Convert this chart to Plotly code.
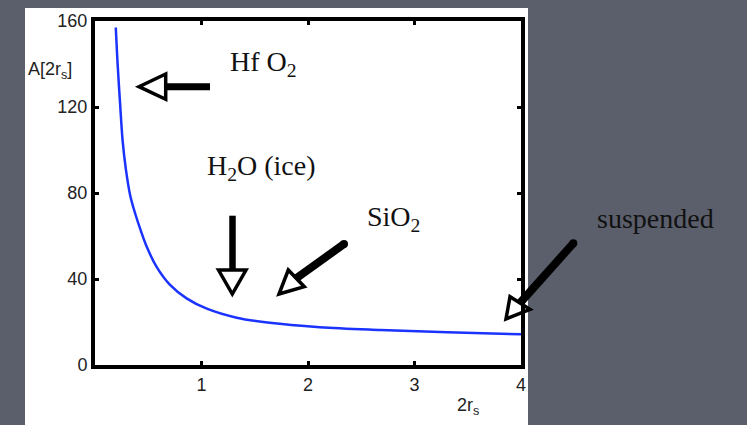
import plotly.graph_objects as go

# Curve samples: A[2r_s] against 2r_s
size_2rs = [0.195, 0.21, 0.235, 0.26, 0.29, 0.33, 0.38, 0.43, 0.49, 0.58, 0.70, 0.86,
            1.05, 1.33, 1.64, 2.11, 2.68, 3.31, 4.0]
a_value = [157, 142, 122, 104, 91, 79, 70, 62.5, 54.5, 45.5, 37.5, 31,
           26.2, 22, 19.6, 17.6, 16.3, 15.2, 14.3]

x_ticks = [1, 2, 3, 4]
y_ticks = [0, 40, 80, 120, 160]

W, H = 747, 425
ML, MR, MT, MB = 95, 226, 21, 60
PW, PH = W - ML - MR, H - MT - MB


def px(x):
    return (x - ML) / PW


def py(y):
    return (H - MB - y) / PH


fig = go.Figure()
fig.add_trace(go.Scatter(
    x=size_2rs, y=a_value, mode="lines",
    line=dict(color="#1a33ff", width=2.5, shape="spline", smoothing=1.0),
    hoverinfo="skip", showlegend=False,
))

axis_common = dict(
    showline=True, linecolor="black", linewidth=4, mirror="ticks",
    ticks="inside", ticklen=4, tickwidth=3, tickcolor="black",
    showgrid=False, zeroline=False,
    tickfont=dict(family="Liberation Sans, Arial, sans-serif", size=18, color="#222"),
)
fig.update_xaxes(range=[0, 4], tickvals=x_ticks, ticktext=[str(v) for v in x_ticks], **axis_common)
fig.update_yaxes(range=[0, 160], tickvals=y_ticks, ticktext=[str(v) for v in y_ticks], **axis_common)

shapes = []
# white slide panel behind the chart
shapes.append(dict(type="rect", xref="paper", yref="paper", layer="below",
                   x0=px(25), x1=px(528), y0=py(440), y1=py(8),
                   fillcolor="white", line=dict(width=0)))

ARROW = dict(color="black", width=3.5)


def shaft(x0, y0, x1, y1, w):
    shapes.append(dict(type="line", xref="paper", yref="paper", layer="above",
                       x0=px(x0), y0=py(y0), x1=px(x1), y1=py(y1),
                       line=dict(color="black", width=w)))


def round_cap(x, y, r):
    shapes.append(dict(type="circle", xref="paper", yref="paper", layer="above",
                       x0=px(x - r), x1=px(x + r), y0=py(y + r), y1=py(y - r),
                       fillcolor="black", line=dict(width=0)))


def head(p1, tip, p2):
    pts = [p1, tip, p2]
    path = "M " + " L ".join(f"{px(a):.5f},{py(b):.5f}" for a, b in pts) + " Z"
    shapes.append(dict(type="path", xref="paper", yref="paper", layer="above",
                       path=path, fillcolor="rgba(0,0,0,0)", line=ARROW))


# HfO2 arrow, pointing left
shaft(165.5, 86.7, 210, 86.7, 7)
head((165.7, 74), (139, 86.7), (165.7, 99.3))
# H2O (ice) arrow, pointing down
shaft(232.5, 215.7, 232.5, 270, 6.5)
head((218.5, 270), (232.3, 294), (246, 270))
# SiO2 arrow, pointing down-left
shaft(344, 244, 296.3, 278.3, 8)
round_cap(344, 244, 4)
head((288.3, 270), (279, 294), (304.3, 286.7))
# suspended arrow, pointing down-left
shaft(573.3, 243.3, 520, 303, 8)
round_cap(573.3, 243.3, 4)
head((510, 296.7), (506, 319), (530, 309.3))

fig.update_layout(shapes=shapes)

SERIF = dict(family="Liberation Serif, Times New Roman, serif", size=28, color="#111")
SANS = dict(family="Liberation Sans, Arial, sans-serif", size=18, color="#222")

notes = [
    ("Hf O<sub>2</sub>", 228, 63, SERIF),
    ("H<sub>2</sub>O (ice)", 205, 167, SERIF),
    ("SiO<sub>2</sub>", 365, 218, SERIF),
    ("suspended", 595, 218, SERIF),
    ("A[2r<sub>s</sub>]", 26, 70, SANS),
    ("2r<sub>s</sub>", 455, 406, SANS),
]
for text, x, y, font in notes:
    fig.add_annotation(text=text, xref="paper", yref="paper", x=px(x), y=py(y),
                       xanchor="left", yanchor="middle", showarrow=False, font=font)

fig.update_layout(
    width=W, height=H,
    margin=dict(l=ML, r=MR, t=MT, b=MB, pad=0),
    paper_bgcolor="#5b5f6c", plot_bgcolor="white",
)

fig.write_html("out.html")
